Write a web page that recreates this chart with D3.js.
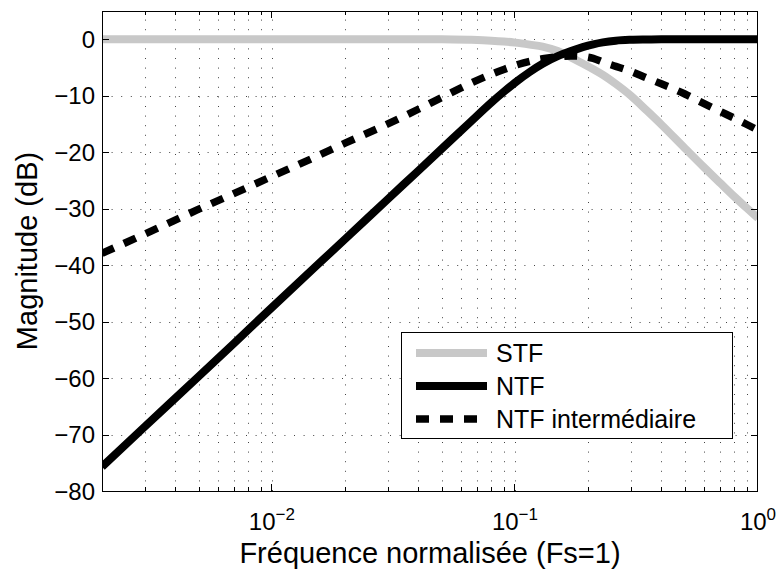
<!DOCTYPE html>
<html>
<head>
<meta charset="utf-8">
<script src="https://cdn.jsdelivr.net/npm/d3@7"></script>
<style>
  html, body { margin: 0; padding: 0; background: #fff; }
  svg { display: block; }
  text { font-family: "Liberation Sans", Arial, Helvetica, sans-serif; fill: #000; }
</style>
</head>
<body>
<svg id="chart" width="778" height="570"></svg>
<script>
// ---- data ----
const freq = [0.002, 0.003, 0.005, 0.007, 0.01, 0.015, 0.02, 0.03, 0.04, 0.05,
              0.065, 0.08, 0.09, 0.1, 0.115, 0.13, 0.15, 0.17, 0.19, 0.21,
              0.23, 0.26, 0.3, 0.35, 0.4, 0.5, 0.6, 0.7, 0.8, 0.9, 1.0];
const stf = [0, 0, 0, 0, 0, 0, 0, 0, 0, 0,
             -0.1, -0.25, -0.4, -0.6, -0.95, -1.3, -2.1, -3.2, -4.3, -5.3,
             -6.3, -7.9, -10.0, -12.7, -15.1, -19.3, -22.7, -25.5, -27.9, -29.9, -31.7];
const ntf = [-75.7, -68.6, -59.7, -53.8, -47.5, -40.4, -35.4, -28.3, -23.3, -19.4,
             -14.8, -11.2, -9.3, -7.7, -5.8, -4.35, -3.0, -2.1, -1.4, -0.9,
             -0.55, -0.25, -0.1, -0.04, 0, 0, 0, 0, 0, 0, 0];
const ntfInt = [-37.9, -34.5, -30.1, -27.3, -24.3, -20.9, -18.4, -15.0, -12.4, -10.3,
                -7.9, -6.2, -5.35, -4.65, -3.9, -3.45, -3.1, -2.95, -3.05, -3.4,
                -4.05, -4.8, -5.7, -6.9, -7.9, -9.7, -11.4, -12.8, -14.0, -15.1, -16.1];
const seriesNames = ["STF", "NTF", "NTF intermédiaire"];
const yTicks = [0, -10, -20, -30, -40, -50, -60, -70, -80];
const xMajorTicks = [0.01, 0.1, 1];
const xMajorExp = ["−2", "−1", "0"];
const xMinorTicks = [0.002, 0.003, 0.004, 0.005, 0.006, 0.007, 0.008, 0.009,
                     0.02, 0.03, 0.04, 0.05, 0.06, 0.07, 0.08, 0.09,
                     0.2, 0.3, 0.4, 0.5, 0.6, 0.7, 0.8, 0.9];
const xTitle = "Fréquence normalisée (Fs=1)";
const yTitle = "Magnitude (dB)";

// ---- layout ----
const L = 102, R = 758, T = 11, B = 491;
const svg = d3.select("#chart");
const x = d3.scaleLog().domain([0.002, 1]).range([L, R]);
const y = d3.scaleLinear().domain([-80, 5]).range([B, T]);

// grid
const grid = svg.append("g").attr("stroke", "#444").attr("stroke-width", 1)
  .attr("stroke-dasharray", "1,8.6").attr("fill", "none");
xMajorTicks.concat(xMinorTicks).forEach(v => {
  const px = Math.round(x(v)) + 0.5;
  if (px <= L + 1 || px >= R - 1) return;
  grid.append("line").attr("x1", px).attr("x2", px).attr("y1", B).attr("y2", T);
});
yTicks.forEach(v => {
  const py = Math.round(y(v)) + 0.5;
  if (py >= B - 1 || py <= T + 1) return;
  grid.append("line").attr("x1", L).attr("x2", R).attr("y1", py).attr("y2", py);
});

// clip
svg.append("defs").append("clipPath").attr("id", "plot")
  .append("rect").attr("x", L).attr("y", T).attr("width", R - L).attr("height", B - T);

const rows = (vals) => freq.map((f, i) => [f, vals[i]]);
const line = d3.line().x(d => x(d[0])).y(d => y(d[1])).curve(d3.curveMonotoneX);
const plot = svg.append("g").attr("clip-path", "url(#plot)");
const styles = [
  { vals: stf, stroke: "#c8c8c8", width: 8, dash: null },
  { vals: ntf, stroke: "#000", width: 8, dash: null },
  { vals: ntfInt, stroke: "#000", width: 7.5, dash: "13,11" }
];
styles.forEach(s => {
  plot.append("path").datum(rows(s.vals)).attr("d", line)
    .attr("fill", "none").attr("stroke", s.stroke).attr("stroke-width", s.width)
    .attr("stroke-dasharray", s.dash).attr("stroke-linejoin", "round");
});

// frame
svg.append("rect").attr("x", L + 0.5).attr("y", T + 0.5).attr("width", R - L - 1).attr("height", B - T)
  .attr("fill", "none").attr("stroke", "#000").attr("stroke-width", 1);

// ticks
const tk = svg.append("g").attr("stroke", "#000").attr("stroke-width", 1);
yTicks.forEach(v => {
  const py = Math.round(y(v)) + 0.5;
  tk.append("line").attr("x1", L).attr("x2", L + 7).attr("y1", py).attr("y2", py);
  tk.append("line").attr("x1", R).attr("x2", R - 7).attr("y1", py).attr("y2", py);
});
xMajorTicks.forEach(v => {
  const px = Math.round(x(v)) - 0.5;
  tk.append("line").attr("x1", px).attr("x2", px).attr("y1", B).attr("y2", B - 7);
  tk.append("line").attr("x1", px).attr("x2", px).attr("y1", T).attr("y2", T + 7);
});
xMinorTicks.forEach(v => {
  const px = Math.round(x(v)) + 0.5;
  tk.append("line").attr("x1", px).attr("x2", px).attr("y1", B).attr("y2", B - 4);
  tk.append("line").attr("x1", px).attr("x2", px).attr("y1", T).attr("y2", T + 4);
});

// y tick labels
yTicks.forEach(v => {
  svg.append("text").attr("x", 95).attr("y", y(v)).attr("dy", "0.36em")
    .attr("text-anchor", "end").attr("font-size", 24)
    .text(v < 0 ? "−" + Math.abs(v) : String(v));
});
// x tick labels 10^n
xMajorTicks.forEach((v, i) => {
  const t = svg.append("text").attr("x", x(v)).attr("y", 530)
    .attr("text-anchor", "middle").attr("font-size", 24);
  t.append("tspan").text("10");
  t.append("tspan").attr("dy", -10).attr("font-size", 17).text(xMajorExp[i]);
});

// axis titles
svg.append("text").attr("x", (L + R) / 2).attr("y", 563).attr("text-anchor", "middle")
  .attr("font-size", 29).text(xTitle);
svg.append("text").attr("transform", `translate(37,${(T + B) / 2}) rotate(-90)`)
  .attr("text-anchor", "middle").attr("font-size", 29).text(yTitle);

// legend
const lg = svg.append("g");
lg.append("rect").attr("x", 401.5).attr("y", 332.5).attr("width", 331).attr("height", 106)
  .attr("fill", "#fff").attr("stroke", "#000").attr("stroke-width", 1);
const ly = [353, 386, 419];
styles.forEach((s, i) => {
  lg.append("line").attr("x1", 416).attr("x2", 487).attr("y1", ly[i]).attr("y2", ly[i])
    .attr("stroke", s.stroke).attr("stroke-width", s.width).attr("stroke-dasharray", s.dash);
  lg.append("text").attr("x", 496).attr("y", ly[i]).attr("dy", "0.36em")
    .attr("font-size", 25).text(seriesNames[i]);
});
</script>
</body>
</html>
